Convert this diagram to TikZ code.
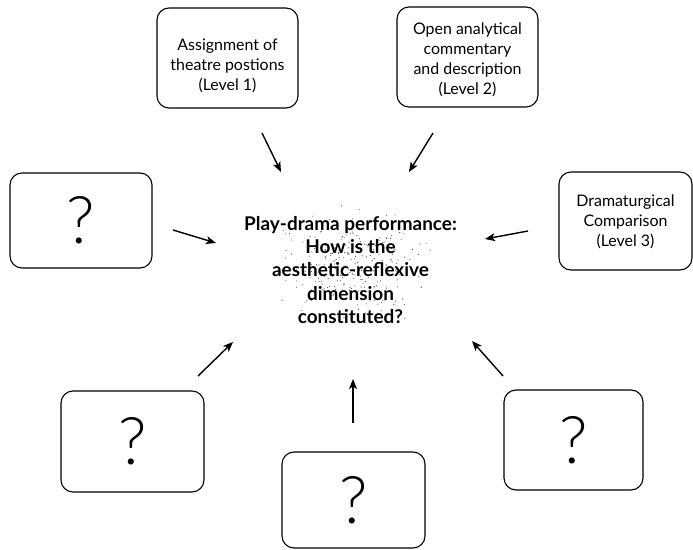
\documentclass[tikz,border=0pt]{standalone}
\usepackage{fontspec}
\setmainfont{Lato}
\newfontfamily\qfont{Lato Light}
\usetikzlibrary{arrows.meta}
\begin{document}
\begin{tikzpicture}[x=1bp,y=-1bp,
  frame/.style={draw, line width=1.1bp, rounded corners=12bp, inner sep=0pt},
  boxtext/.style={align=center, inner sep=0pt, font=\fontsize{16}{20}\selectfont},
  qbox/.style={frame, font=\qfont\fontsize{66}{66}\selectfont},
  flow/.style={line width=1.4bp, -{Stealth[length=10bp,width=8bp,inset=2.5bp]}},
  speck/.style={fill=black!75},
]
\useasboundingbox (0,0) rectangle (693,550);

% labelled boxes
\node[frame, minimum width=141bp, minimum height=100bp] (lv1) at (227.5,58) {};
\node[boxtext] (lv1t) at ([yshift=-8bp]lv1.center)
  {Assignment of\\theatre postions\\(Level 1)};
\node[frame, minimum width=141bp, minimum height=100bp] (lv2) at (467.5,57) {};
\node[boxtext] (lv2t) at ([yshift=-3bp]lv2.center)
  {Open analytical\\commentary\\and description\\(Level 2)};
\node[frame, minimum width=133bp, minimum height=98bp] (lv3) at (625.5,221) {};
\node[boxtext] (lv3t) at ([yshift=-1bp]lv3.center)
  {Dramaturgical\\Comparison\\(Level 3)};

% open boxes
\node[qbox, minimum width=142bp, minimum height=95bp] (qL) at (81,220.5) {?};
\node[qbox, minimum width=143bp, minimum height=101bp] (qBL) at (132.5,441.5) {?};
\node[qbox, minimum width=143bp, minimum height=96bp] (qB) at (353.5,500) {?};
\node[qbox, minimum width=139bp, minimum height=100bp] (qBR) at (573.5,440) {?};

% grainy cloud behind the central question
\pgfmathsetseed{7}
\foreach \i in {1,...,260}{
  \pgfmathsetmacro\dx{(rand+rand+rand)*33}
  \pgfmathsetmacro\dy{(rand+rand+rand)*24}
  \fill[speck] (352+\dx,262+\dy) circle (0.55bp);
}

% central question
\node[font=\bfseries\fontsize{19}{23.5}\selectfont, align=center, inner sep=0pt] (ctr) at (350.5,270)
  {Play-drama performance:\\How is the\\aesthetic-reflexive\\dimension\\constituted?};

% arrow end points
\coordinate (a1s) at (262,133); \coordinate (a1e) at (281,172);
\coordinate (a2s) at (433,133); \coordinate (a2e) at (409,172);
\coordinate (a3s) at (173,230); \coordinate (a3e) at (216,243);
\coordinate (a4s) at (528,231); \coordinate (a4e) at (485,239);
\coordinate (a5s) at (198,376); \coordinate (a5e) at (233,342);
\coordinate (a6s) at (503,376); \coordinate (a6e) at (472,341);
\coordinate (a7s) at (353,423); \coordinate (a7e) at (353,379);

\foreach \k in {1,...,7}{
  \draw[flow] (a\k s) -- (a\k e);
}
\end{tikzpicture}
\end{document}
